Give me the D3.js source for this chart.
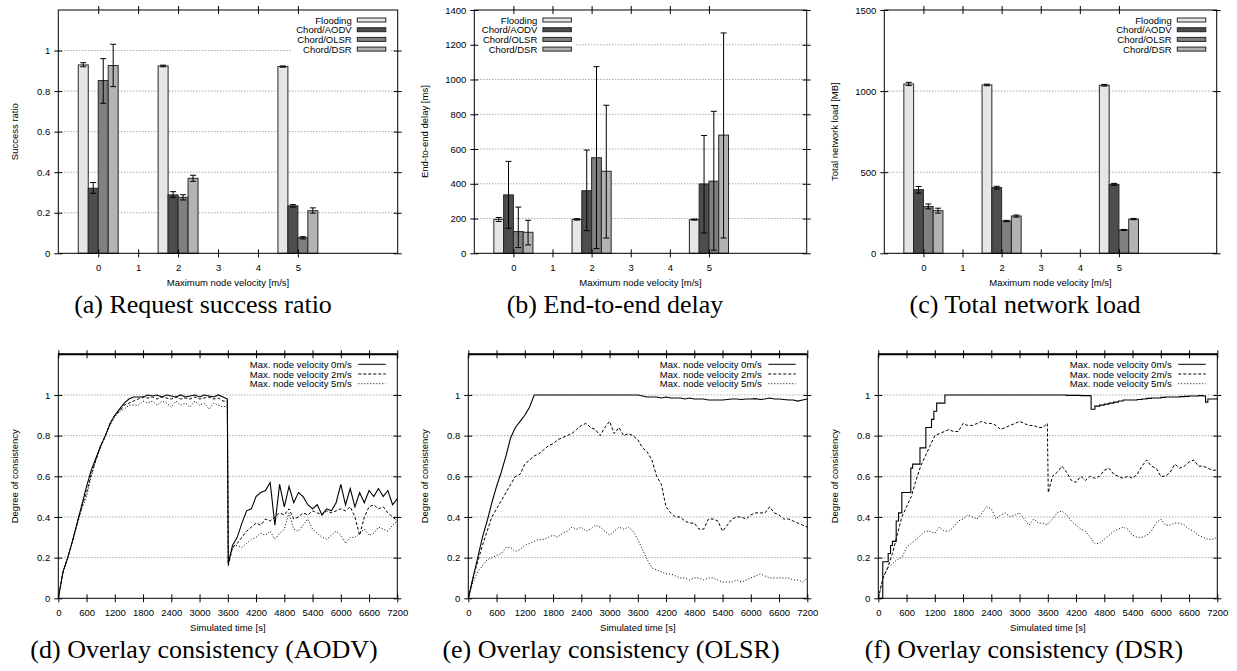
<!DOCTYPE html>
<html><head><meta charset="utf-8">
<script src="https://cdn.jsdelivr.net/npm/d3@7"></script>
<style>
body{margin:0;background:#fff}
svg text{font-family:"Liberation Sans",Arial,Helvetica,sans-serif;font-size:9.5px;fill:#000}
svg text.cap{font-family:"Liberation Serif","Times New Roman",serif;font-size:26px}
</style></head><body>
<svg id="c" width="1237" height="671"></svg>
<script>
// ---------------- DATA ----------------
const velocities = [0, 2, 5];
const velocityTicks = [0, 1, 2, 3, 4, 5];
const barSeriesNames = ["Flooding", "Chord/AODV", "Chord/OLSR", "Chord/DSR"];

// (a) Request success ratio
const successFlooding = [0.929, 0.924, 0.921];
const successFloodingErr = [[0.92, 0.94], [0.92, 0.928], [0.918, 0.924]];
const successAODV = [0.321, 0.288, 0.234];
const successAODVErr = [[0.296, 0.349], [0.276, 0.304], [0.228, 0.24]];
const successOLSR = [0.852, 0.276, 0.077];
const successOLSRErr = [[0.74, 0.96], [0.263, 0.289], [0.071, 0.082]];
const successDSR = [0.926, 0.37, 0.21];
const successDSRErr = [[0.822, 1.031], [0.355, 0.385], [0.198, 0.224]];
const successTicks = [0, 0.2, 0.4, 0.6, 0.8, 1];

// (b) End-to-end delay [ms]
const delayFlooding = [195, 195, 194];
const delayFloodingErr = [[183, 206], [191, 199], [191, 197]];
const delayAODV = [336, 360, 399];
const delayAODVErr = [[144, 529], [130, 594], [117, 678]];
const delayOLSR = [125, 550, 415];
const delayOLSRErr = [[33, 266], [27, 1074], [18, 817]];
const delayDSR = [121, 472, 680];
const delayDSRErr = [[48, 190], [88, 852], [88, 1268]];
const delayTicks = [0, 200, 400, 600, 800, 1000, 1200, 1400];

// (c) Total network load [MB]
const loadFlooding = [1044, 1038, 1036];
const loadFloodingErr = [[1034, 1054], [1033, 1043], [1031, 1041]];
const loadAODV = [392, 405, 425];
const loadAODVErr = [[371, 412], [397, 413], [419, 431]];
const loadOLSR = [288, 199, 144];
const loadOLSRErr = [[274, 304], [195, 203], [141, 147]];
const loadDSR = [263, 230, 211];
const loadDSRErr = [[248, 278], [223, 236], [207, 215]];
const loadTicks = [0, 500, 1000, 1500];

// Overlay consistency
const lineSeriesNames = ["Max. node velocity 0m/s", "Max. node velocity 2m/s", "Max. node velocity 5m/s"];
const timeTicks = [0, 600, 1200, 1800, 2400, 3000, 3600, 4200, 4800, 5400, 6000, 6600, 7200];
const consistencyTicks = [0, 0.2, 0.4, 0.6, 0.8, 1];

// time grid with break at 3600 (AODV, DSR)
const timeBreak = [0,100,200,300,400,500,600,700,800,900,1000,1100,1200,1300,1400,1500,1600,1700,1800,1900,
  2000,2100,2200,2300,2400,2500,2600,2700,2800,2900,3000,3100,3200,3300,3400,3500,3590,3610,
  3700,3800,3900,4000,4100,4200,4300,4400,4500,4600,4700,4800,4900,5000,5100,5200,5300,5400,5500,5600,
  5700,5800,5900,6000,6100,6200,6300,6400,6500,6600,6700,6800,6900,7000,7100,7200];
// regular time grid (OLSR)
const timeRegular = [0,100,200,300,400,500,600,700,800,900,1000,1100,1200,1300,1400,1500,1600,1700,1800,1900,
  2000,2100,2200,2300,2400,2500,2600,2700,2800,2900,3000,3100,3200,3300,3400,3500,3600,3700,3800,3900,
  4000,4100,4200,4300,4400,4500,4600,4700,4800,4900,5000,5100,5200,5300,5400,5500,5600,5700,5800,5900,
  6000,6100,6200,6300,6400,6500,6600,6700,6800,6900,7000,7100,7200];

// (d) AODV
const aodv0 = [0,0.13,0.20,0.28,0.37,0.46,0.55,0.63,0.69,0.75,
  0.80,0.86,0.90,0.93,0.96,0.98,0.99,0.99,0.99,1.0,
  0.995,1.0,0.99,1.0,0.995,0.99,1.0,0.99,0.995,1.0,
  0.99,1.0,0.995,0.99,1.0,0.99,
  0.98,0.17,
  0.26,0.30,0.37,0.43,0.44,0.50,0.52,0.53,0.57,0.36,
  0.56,0.45,0.55,0.47,0.52,0.50,0.46,0.44,0.46,0.41,
  0.44,0.43,0.47,0.56,0.46,0.54,0.45,0.52,0.47,0.53,
  0.50,0.54,0.50,0.53,0.46,0.49];
const aodv2 = [0,0.13,0.20,0.28,0.37,0.45,0.52,0.61,0.68,0.75,
  0.80,0.86,0.90,0.92,0.95,0.96,0.97,0.98,0.99,0.985,
  0.99,0.98,0.99,0.985,0.98,0.99,0.98,0.985,0.98,0.99,
  0.98,0.985,0.99,0.98,0.985,0.97,
  0.97,0.16,
  0.25,0.27,0.30,0.33,0.35,0.37,0.36,0.39,0.38,0.40,
  0.42,0.41,0.44,0.39,0.40,0.42,0.41,0.43,0.42,0.41,
  0.43,0.42,0.43,0.44,0.43,0.45,0.40,0.31,0.40,0.45,
  0.46,0.44,0.45,0.42,0.40,0.38];
const aodv5 = [0,0.13,0.20,0.28,0.36,0.44,0.50,0.60,0.68,0.74,
  0.80,0.85,0.89,0.92,0.93,0.95,0.95,0.95,0.97,0.96,
  0.97,0.95,0.97,0.96,0.94,0.97,0.95,0.96,0.94,0.97,
  0.95,0.96,0.93,0.96,0.95,0.94,
  0.95,0.17,
  0.25,0.26,0.25,0.27,0.29,0.30,0.32,0.31,0.33,0.29,
  0.32,0.34,0.42,0.34,0.33,0.36,0.39,0.34,0.32,0.30,
  0.29,0.31,0.33,0.31,0.27,0.30,0.30,0.32,0.34,0.31,
  0.32,0.35,0.34,0.33,0.36,0.38];

// (e) OLSR
const olsr0 = [0,0.10,0.20,0.30,0.38,0.47,0.55,0.62,0.70,0.79,
  0.84,0.87,0.90,0.94,1.0,1.0,1.0,1.0,1.0,1.0,
  1.0,1.0,1.0,1.0,1.0,1.0,1.0,1.0,1.0,1.0,
  1.0,1.0,1.0,1.0,1.0,1.0,1.0,0.995,0.99,0.99,
  0.99,0.985,0.99,0.985,0.985,0.985,0.98,0.985,0.98,0.98,
  0.98,0.975,0.975,0.975,0.975,0.978,0.98,0.98,0.978,0.98,
  0.98,0.982,0.978,0.98,0.985,0.98,0.98,0.978,0.975,0.975,
  0.97,0.975,0.98];
const olsr2 = [0,0.10,0.18,0.26,0.33,0.40,0.44,0.48,0.52,0.56,
  0.60,0.61,0.66,0.68,0.70,0.71,0.73,0.75,0.76,0.78,
  0.79,0.80,0.81,0.83,0.85,0.86,0.84,0.83,0.80,0.84,
  0.87,0.81,0.84,0.80,0.81,0.80,0.78,0.74,0.72,0.68,
  0.60,0.56,0.45,0.42,0.40,0.40,0.38,0.37,0.37,0.34,
  0.34,0.39,0.39,0.38,0.33,0.36,0.39,0.40,0.40,0.39,
  0.41,0.42,0.42,0.42,0.45,0.42,0.41,0.39,0.39,0.38,
  0.37,0.36,0.35];
const olsr5 = [0,0.08,0.13,0.16,0.19,0.20,0.21,0.22,0.25,0.25,
  0.23,0.24,0.26,0.27,0.28,0.29,0.29,0.30,0.31,0.30,
  0.32,0.33,0.35,0.34,0.35,0.33,0.34,0.36,0.35,0.33,
  0.31,0.33,0.35,0.34,0.35,0.33,0.29,0.24,0.19,0.15,
  0.14,0.13,0.12,0.12,0.11,0.10,0.10,0.09,0.10,0.10,
  0.09,0.10,0.10,0.09,0.08,0.08,0.08,0.09,0.08,0.09,
  0.10,0.11,0.12,0.11,0.10,0.10,0.10,0.10,0.10,0.09,
  0.09,0.08,0.10];

// (f) DSR
const dsrStepTime = [0,95,210,260,300,380,430,500,690,730,
  885,1010,1130,1180,1240,1415,2000,3000,4000,4300,
  4500,4520,4600,4700,4800,4900,5000,5100,5200,5300,
  5400,5500,5600,5700,5800,5900,6000,6100,6200,6300,
  6400,6500,6600,6700,6800,6900,6950,7000,7100,7200];
const dsr0 = [0,0.18,0.22,0.26,0.28,0.38,0.42,0.52,0.64,0.66,
  0.74,0.84,0.88,0.92,0.96,1.0,1.0,1.0,0.998,0.997,
  0.995,0.93,0.945,0.95,0.955,0.96,0.965,0.97,0.975,0.975,
  0.975,0.978,0.98,0.983,0.985,0.985,0.988,0.99,0.99,0.99,
  0.992,0.993,0.995,0.995,0.997,0.995,0.965,0.98,0.98,0.985];
const dsr2 = [0,0.10,0.15,0.22,0.31,0.40,0.45,0.50,0.58,0.65,
  0.70,0.75,0.80,0.81,0.82,0.83,0.82,0.82,0.86,0.85,
  0.85,0.86,0.87,0.86,0.86,0.85,0.83,0.84,0.85,0.86,
  0.87,0.86,0.85,0.85,0.84,0.84,
  0.86,0.52,
  0.60,0.62,0.65,0.62,0.58,0.57,0.60,0.58,0.60,0.59,
  0.60,0.63,0.64,0.61,0.60,0.59,0.60,0.59,0.61,0.65,
  0.68,0.65,0.64,0.60,0.60,0.62,0.66,0.64,0.65,0.67,
  0.68,0.65,0.65,0.64,0.63,0.63];
const dsr5 = [0,0.10,0.15,0.17,0.19,0.20,0.25,0.27,0.29,0.31,
  0.33,0.33,0.32,0.35,0.33,0.33,0.35,0.38,0.39,0.41,
  0.40,0.39,0.42,0.45,0.44,0.39,0.41,0.42,0.40,0.41,
  0.42,0.39,0.36,0.39,0.37,0.37,
  0.36,0.37,
  0.39,0.42,0.43,0.41,0.38,0.36,0.34,0.33,0.30,0.27,
  0.27,0.29,0.31,0.33,0.34,0.35,0.34,0.31,0.30,0.30,
  0.31,0.33,0.37,0.39,0.36,0.36,0.37,0.37,0.36,0.34,
  0.33,0.31,0.30,0.29,0.29,0.30];

// ---------------- STYLE / LAYOUT ----------------
const barColors = ["#e6e6e6", "#4d4d4d", "#808080", "#b3b3b3"];
const lineDash = [null, "3,2", "1,2"];
const svg = d3.select("#c");

function cleanAxis(sel) {
  sel.select(".domain").remove();
  sel.attr("font-family", null).attr("font-size", null);
  sel.selectAll(".tick line").attr("stroke", "#000");
}

function drawFrameAxes(g, p, x, y, xTicks, yTicks, xFmt, yFmt) {
  g.append("g").attr("transform", `translate(${p.x0},0)`)
    .call(d3.axisLeft(y).tickValues(yTicks).tickSize(4).tickPadding(4).tickFormat(yFmt)).call(cleanAxis);
  g.append("g").attr("transform", `translate(${p.x0},0)`)
    .call(d3.axisRight(y).tickValues(yTicks).tickSize(4).tickFormat("")).call(cleanAxis);
  g.append("g").attr("transform", `translate(${p.x1},0)`)
    .call(d3.axisRight(y).tickValues(yTicks).tickSize(4).tickFormat("")).call(cleanAxis);
  g.append("g").attr("transform", `translate(${p.x1},0)`)
    .call(d3.axisLeft(y).tickValues(yTicks).tickSize(4).tickFormat("")).call(cleanAxis);
  g.append("g").attr("transform", `translate(0,${p.y1})`)
    .call(d3.axisBottom(x).tickValues(xTicks).tickSize(4).tickPadding(7).tickFormat(xFmt)).call(cleanAxis);
  g.append("g").attr("transform", `translate(0,${p.y1})`)
    .call(d3.axisTop(x).tickValues(xTicks).tickSize(4).tickFormat("")).call(cleanAxis);
  g.append("g").attr("transform", `translate(0,${p.y0})`)
    .call(d3.axisTop(x).tickValues(xTicks).tickSize(4).tickFormat("")).call(cleanAxis);
  g.append("g").attr("transform", `translate(0,${p.y0})`)
    .call(d3.axisBottom(x).tickValues(xTicks).tickSize(4).tickFormat("")).call(cleanAxis);
}

function drawTitles(g, p, xTitle, yTitle, caption) {
  g.append("text").attr("x", (p.x0 + p.x1) / 2).attr("y", p.y1 + p.xTitleDy)
    .attr("text-anchor", "middle").attr("dominant-baseline", "central").text(xTitle);
  g.append("text").attr("transform", `translate(${p.yTitleX},${(p.y0 + p.y1) / 2}) rotate(-90)`)
    .attr("text-anchor", "middle").attr("dominant-baseline", "central").text(yTitle);
  g.append("text").attr("class", "cap").attr("x", p.capX).attr("y", p.capY)
    .attr("text-anchor", "middle").text(caption);
}

function drawGrid(g, p, y, ticks) {
  g.selectAll(null).data(ticks).join("line")
    .attr("x1", p.x0).attr("x2", p.x1).attr("y1", d => y(d)).attr("y2", d => y(d))
    .attr("stroke", "#808080").attr("stroke-width", 1).attr("stroke-dasharray", "1,2");
}

function drawBarPanel(p, yMax, yTicks, gridTicks, yTitle, caption, means, errs) {
  const g = svg.append("g");
  const x = d3.scaleLinear().domain([-1, 7.5]).range([p.x0, p.x1]);
  const y = d3.scaleLinear().domain([0, yMax]).range([p.y1, p.y0]);
  drawGrid(g, p, y, gridTicks);
  const bw = 0.25;
  means.forEach((m, i) => {
    const rows = velocities.map((v, j) => ({ v, m: m[j], lo: errs[i][j][0], hi: errs[i][j][1] }));
    g.selectAll(null).data(rows).join("rect")
      .attr("x", d => x(d.v - 0.5 + i * bw)).attr("width", x(bw) - x(0))
      .attr("y", d => y(d.m)).attr("height", d => y(0) - y(d.m))
      .attr("fill", barColors[i]).attr("stroke", "#262626").attr("stroke-width", 1);
    const eg = g.selectAll(null).data(rows).join("g");
    const cx = d => x(d.v - 0.5 + i * bw + bw / 2);
    eg.append("line").attr("x1", cx).attr("x2", cx).attr("y1", d => y(d.lo)).attr("y2", d => y(d.hi)).attr("stroke", "#000");
    eg.append("line").attr("x1", d => cx(d) - 3).attr("x2", d => cx(d) + 3).attr("y1", d => y(d.lo)).attr("y2", d => y(d.lo)).attr("stroke", "#000");
    eg.append("line").attr("x1", d => cx(d) - 3).attr("x2", d => cx(d) + 3).attr("y1", d => y(d.hi)).attr("y2", d => y(d.hi)).attr("stroke", "#000");
  });
  const lg = g.append("g");
  const bg = lg.append("rect").attr("fill", "#fff");
  let maxW = 0;
  barSeriesNames.forEach((name, i) => {
    const ry = p.legY + i * 9.7;
    const t = lg.append("text").attr("x", p.legX).attr("y", ry).attr("text-anchor", "end")
      .attr("dominant-baseline", "central").text(name);
    maxW = Math.max(maxW, t.node().getComputedTextLength());
    lg.append("rect").attr("x", p.legX + 5.6).attr("y", ry - 2).attr("width", 28.5).attr("height", 4)
      .attr("fill", barColors[i]).attr("stroke", "#262626").attr("stroke-width", 1);
  });
  bg.attr("x", p.legX - maxW - 5).attr("y", p.legY - 6).attr("width", maxW + 5 + 38).attr("height", 3 * 9.7 + 12);
  g.append("rect").attr("x", p.x0).attr("y", p.y0).attr("width", p.x1 - p.x0).attr("height", p.y1 - p.y0)
    .attr("fill", "none").attr("stroke", "#000");
  drawFrameAxes(g, p, x, y, velocityTicks, yTicks, d3.format("d"), d3.format("~g"));
  drawTitles(g, p, "Maximum node velocity [m/s]", yTitle, caption);
}

function drawLinePanel(p, series, caption) {
  const g = svg.append("g");
  const x = d3.scaleLinear().domain([0, 7200]).range([p.x0, p.x1]);
  const y = d3.scaleLinear().domain([0, 1.2]).range([p.y1, p.y0]);
  drawGrid(g, p, y, [0.2, 0.4, 0.6, 0.8, 1]);
  series.forEach((s, i) => {
    const pts = s.t.map((t, k) => [t, s.v[k]]);
    const line = d3.line().x(d => x(d[0])).y(d => y(d[1])).curve(s.step ? d3.curveStepAfter : d3.curveLinear);
    g.append("path").attr("d", line(pts)).attr("fill", "none").attr("stroke", "#000")
      .attr("stroke-width", i === 0 ? 1.1 : 1).attr("stroke-dasharray", lineDash[i]);
  });
  lineSeriesNames.forEach((name, i) => {
    const ry = p.legY + i * 9.7;
    g.append("text").attr("x", p.legX).attr("y", ry).attr("text-anchor", "end")
      .attr("dominant-baseline", "central").text(name);
    g.append("line").attr("x1", p.legX + 6.6).attr("x2", p.legX + 34).attr("y1", ry).attr("y2", ry)
      .attr("stroke", "#000").attr("stroke-dasharray", lineDash[i]);
  });
  g.append("rect").attr("x", p.x0).attr("y", p.y0).attr("width", p.x1 - p.x0).attr("height", p.y1 - p.y0)
    .attr("fill", "none").attr("stroke", "#000");
  g.append("line").attr("x1", p.x0).attr("x2", p.x1).attr("y1", p.y0).attr("y2", p.y0)
    .attr("stroke", "#000").attr("stroke-width", 2);
  drawFrameAxes(g, p, x, y, timeTicks, consistencyTicks, d3.format("d"), d3.format("~g"));
  drawTitles(g, p, "Simulated time [s]", "Degree of consistency", caption);
}

// ---------------- PANELS ----------------
drawBarPanel({ x0: 58.3, x1: 397.7, y0: 10, y1: 253.3, yTitleX: 14, xTitleDy: 29, capX: 203, capY: 312.5, legX: 351.7, legY: 20 },
  1.2, successTicks, [0.2, 0.4, 0.6, 0.8, 1], "Success ratio", "(a) Request success ratio",
  [successFlooding, successAODV, successOLSR, successDSR],
  [successFloodingErr, successAODVErr, successOLSRErr, successDSRErr]);

drawBarPanel({ x0: 474.3, x1: 806.7, y0: 10, y1: 253.3, yTitleX: 424, xTitleDy: 29, capX: 615, capY: 312.5, legX: 537.3, legY: 20 },
  1400, delayTicks, [200, 400, 600, 800, 1000, 1200], "End-to-end delay [ms]", "(b) End-to-end delay",
  [delayFlooding, delayAODV, delayOLSR, delayDSR],
  [delayFloodingErr, delayAODVErr, delayOLSRErr, delayDSRErr]);

drawBarPanel({ x0: 884.3, x1: 1216.7, y0: 10, y1: 253.3, yTitleX: 834, xTitleDy: 29, capX: 1025, capY: 312.5, legX: 1171.7, legY: 20 },
  1500, loadTicks, [500, 1000], "Total network load [MB]", "(c) Total network load",
  [loadFlooding, loadAODV, loadOLSR, loadDSR],
  [loadFloodingErr, loadAODVErr, loadOLSRErr, loadDSRErr]);

drawLinePanel({ x0: 58.3, x1: 397.3, y0: 354.3, y1: 598.3, yTitleX: 14, xTitleDy: 29, capX: 204, capY: 657.8, legX: 351.7, legY: 364.3 },
  [{ t: timeBreak, v: aodv0 }, { t: timeBreak, v: aodv2 }, { t: timeBreak, v: aodv5 }],
  "(d) Overlay consistency (AODV)");

drawLinePanel({ x0: 468.3, x1: 807.3, y0: 354.3, y1: 598.3, yTitleX: 424, xTitleDy: 29, capX: 611, capY: 657.8, legX: 761.7, legY: 364.3 },
  [{ t: timeRegular, v: olsr0 }, { t: timeRegular, v: olsr2 }, { t: timeRegular, v: olsr5 }],
  "(e) Overlay consistency (OLSR)");

drawLinePanel({ x0: 878.3, x1: 1217.3, y0: 354.3, y1: 598.3, yTitleX: 834, xTitleDy: 29, capX: 1024, capY: 657.8, legX: 1171.7, legY: 364.3 },
  [{ t: dsrStepTime, v: dsr0, step: true }, { t: timeBreak, v: dsr2 }, { t: timeBreak, v: dsr5 }],
  "(f) Overlay consistency (DSR)");
</script>
</body></html>
